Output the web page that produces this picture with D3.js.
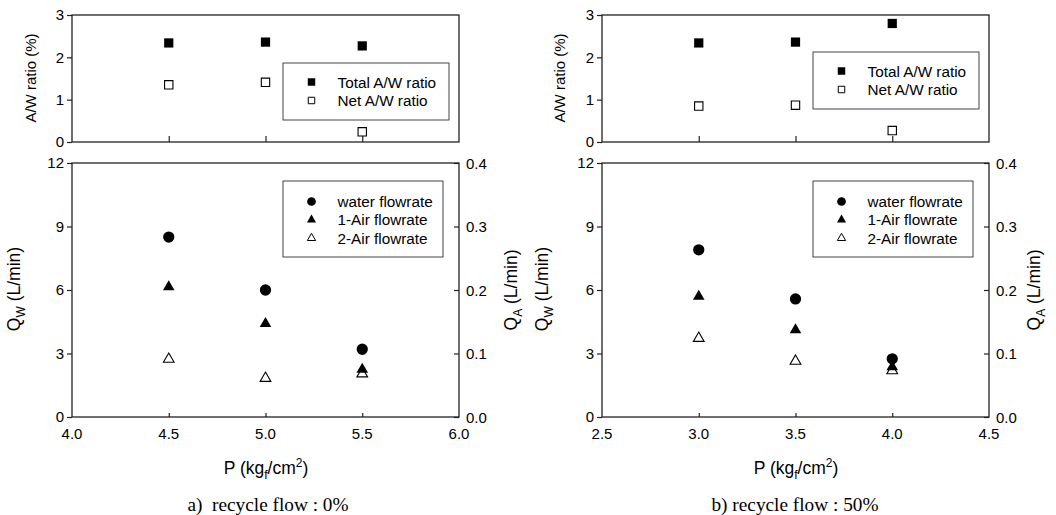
<!DOCTYPE html>
<html>
<head>
<meta charset="utf-8">
<script src="https://cdn.jsdelivr.net/npm/d3@7"></script>
<style>
  body { margin: 0; background: #fff; }
  svg { display: block; font-family: "Liberation Sans", Arial, sans-serif; }
</style>
</head>
<body>
<div class="container"></div>
<script>
// recycle flow 0%
const pressureA = [4.5, 5.0, 5.5];
const totalAWA = [2.34, 2.36, 2.27];
const netAWA = [1.35, 1.41, 0.24];
const waterA = [8.5, 6.0, 3.2];
const air1A = [0.205, 0.147, 0.075];
const air2A = [0.091, 0.061, 0.068];
const xTicksA = [4.0, 4.5, 5.0, 5.5, 6.0];

// recycle flow 50%
const pressureB = [3.0, 3.5, 4.0];
const totalAWB = [2.34, 2.36, 2.80];
const netAWB = [0.85, 0.87, 0.27];
const waterB = [7.9, 5.58, 2.75];
const air1B = [0.19, 0.137, 0.079];
const air2B = [0.124, 0.088, 0.073];
const xTicksB = [2.5, 3.0, 3.5, 4.0, 4.5];

const ratioTicks = [0, 1, 2, 3];
const qwTicks = [0, 3, 6, 9, 12];
const qaTicks = [0, 0.1, 0.2, 0.3, 0.4];
const ratioLegend = ['Total A/W ratio', 'Net A/W ratio'];
const flowLegend = ['water flowrate', '1-Air flowrate', '2-Air flowrate'];
const captions = ['a)  recycle flow : 0%', 'b) recycle flow : 50%'];

const width = 1056, height = 515;
const ink = '#222';

const svg = d3.select('.container').append('svg')
  .attr('width', width).attr('height', height);
svg.append('rect').attr('width', width).attr('height', height).attr('fill', '#fff');

const sym = (type, size) => d3.symbol().type(type).size(size)();

const drawPanel = (cfg) => {
  const x = d3.scaleLinear().domain(d3.extent(cfg.xTicks)).range([cfg.left, cfg.left + 387]);
  const yR = d3.scaleLinear().domain([0, 3]).range([142, 15]);
  const yW = d3.scaleLinear().domain([0, 12]).range([417, 163]);
  const yA = d3.scaleLinear().domain([0, 0.4]).range([417, 163]);

  // ----- top panel: A/W ratio
  const top = svg.append('g');
  top.append('g').attr('transform', `translate(${cfg.left},0)`)
    .call(d3.axisLeft(yR).tickValues(ratioTicks).tickSize(5).tickFormat(d3.format('d')))
    .call(g => g.select('.domain').remove());
  top.append('g').attr('transform', 'translate(0,142)')
    .call(d3.axisTop(x).tickValues(cfg.pressure).tickSize(6).tickFormat(''))
    .call(g => g.select('.domain').remove());
  top.append('rect')
    .attr('x', x.range()[0]).attr('y', 15)
    .attr('width', x.range()[1] - x.range()[0]).attr('height', 127)
    .attr('fill', 'none').attr('stroke', ink).attr('stroke-width', 1.3);

  top.selectAll('.tot').data(cfg.pressure).enter().append('path')
    .attr('d', sym(d3.symbolSquare, 85))
    .attr('transform', (d, i) => `translate(${x(d)},${yR(cfg.total[i])})`)
    .attr('fill', '#000');
  top.selectAll('.net').data(cfg.pressure).enter().append('path')
    .attr('d', sym(d3.symbolSquare, 70))
    .attr('transform', (d, i) => `translate(${x(d)},${yR(cfg.net[i])})`)
    .attr('fill', '#fff').attr('stroke', '#000').attr('stroke-width', 1.1);

  top.append('text')
    .attr('transform', `translate(${cfg.left - cfg.awX},78) rotate(-90)`)
    .attr('text-anchor', 'middle').attr('font-size', 15).text('A/W ratio (%)');

  // legend (top)
  const lt = top.append('g').attr('transform', `translate(${cfg.left + 211},${cfg.topLegendY})`);
  lt.append('rect').attr('width', 166).attr('height', 57)
    .attr('fill', '#fff').attr('stroke', '#444').attr('stroke-width', 1);
  ratioLegend.forEach((name, i) => {
    const yy = 19 + i * 18.5;
    lt.append('path')
      .attr('d', sym(d3.symbolSquare, i === 0 ? 56 : 42))
      .attr('transform', `translate(28.5,${yy})`)
      .attr('fill', i === 0 ? '#000' : '#fff').attr('stroke', '#000').attr('stroke-width', i === 0 ? 0 : 1);
    lt.append('text').attr('x', 54.5).attr('y', yy + 5.5).attr('font-size', 15.3).text(name);
  });

  // ----- bottom panel: flow rates
  const bot = svg.append('g');
  bot.append('g').attr('transform', `translate(${cfg.left},0)`)
    .call(d3.axisLeft(yW).tickValues(qwTicks).tickSize(5).tickFormat(d3.format('d')))
    .call(g => g.select('.domain').remove());
  bot.append('g').attr('transform', `translate(${cfg.left + 387},0)`)
    .call(d3.axisLeft(yA).tickValues(qaTicks).tickSize(5).tickFormat(''))
    .call(g => g.select('.domain').remove());
  bot.append('g').selectAll('text').data(qaTicks).enter().append('text')
    .attr('x', cfg.left + 394).attr('y', d => yA(d) + 5.5)
    .attr('font-size', 15).text(d => d3.format('.1f')(d));
  bot.append('g').attr('transform', 'translate(0,417)')
    .call(d3.axisTop(x).tickValues(cfg.pressure).tickSize(4).tickFormat(''))
    .call(g => g.select('.domain').remove());
  bot.append('g').selectAll('text').data(cfg.xTicks).enter().append('text')
    .attr('x', d => x(d)).attr('y', 438.5)
    .attr('text-anchor', 'middle').attr('font-size', 15).text(d => d3.format('.1f')(d));
  bot.append('rect')
    .attr('x', x.range()[0]).attr('y', 163)
    .attr('width', 387).attr('height', 254)
    .attr('fill', 'none').attr('stroke', ink).attr('stroke-width', 1.3);

  bot.selectAll('.water').data(cfg.pressure).enter().append('path')
    .attr('d', sym(d3.symbolCircle, 100))
    .attr('transform', (d, i) => `translate(${x(d)},${yW(cfg.water[i])})`)
    .attr('fill', '#000');
  bot.selectAll('.air2').data(cfg.pressure).enter().append('path')
    .attr('d', sym(d3.symbolTriangle, 50))
    .attr('transform', (d, i) => `translate(${x(d)},${yA(cfg.air2[i])})`)
    .attr('fill', '#fff').attr('stroke', '#000').attr('stroke-width', 1.1);
  bot.selectAll('.air1').data(cfg.pressure).enter().append('path')
    .attr('d', sym(d3.symbolTriangle, 58))
    .attr('transform', (d, i) => `translate(${x(d)},${yA(cfg.air1[i])})`)
    .attr('fill', '#000');

  const qw = bot.append('text')
    .attr('transform', `translate(${cfg.left - cfg.qwX},289) rotate(-90)`)
    .attr('text-anchor', 'middle').attr('font-size', 17.5);
  qw.append('tspan').text('Q');
  qw.append('tspan').attr('font-size', 12).attr('dy', 5).text('W');
  qw.append('tspan').attr('dy', -5).text(' (L/min)');

  const qa = bot.append('text')
    .attr('transform', `translate(${cfg.left + cfg.qaX},290) rotate(-90)`)
    .attr('text-anchor', 'middle').attr('font-size', 17.5);
  qa.append('tspan').text('Q');
  qa.append('tspan').attr('font-size', 12).attr('dy', 5).text('A');
  qa.append('tspan').attr('dy', -5).text(' (L/min)');

  // legend (bottom)
  const lb = bot.append('g').attr('transform', `translate(${cfg.left + 211},181)`);
  lb.append('rect').attr('width', 160).attr('height', 76)
    .attr('fill', '#fff').attr('stroke', '#444').attr('stroke-width', 1);
  const lsym = [
    { d: sym(d3.symbolCircle, 60), fill: '#000', sw: 0 },
    { d: sym(d3.symbolTriangle, 36), fill: '#000', sw: 0 },
    { d: sym(d3.symbolTriangle, 30), fill: '#fff', sw: 1 }
  ];
  flowLegend.forEach((name, i) => {
    const yy = 20.5 + i * 18.3;
    lb.append('path').attr('d', lsym[i].d)
      .attr('transform', `translate(28.5,${yy})`)
      .attr('fill', lsym[i].fill).attr('stroke', '#000').attr('stroke-width', lsym[i].sw);
    lb.append('text').attr('x', 54.5).attr('y', yy + 5.5).attr('font-size', 15.3).text(name);
  });

  // x label and caption
  const xl = bot.append('text')
    .attr('x', cfg.left + 194).attr('y', 474)
    .attr('text-anchor', 'middle').attr('font-size', 17.5);
  xl.append('tspan').text('P (kg');
  xl.append('tspan').attr('font-size', 12).attr('dy', 5).text('f');
  xl.append('tspan').attr('dy', -5).text('/cm');
  xl.append('tspan').attr('font-size', 12).attr('dy', -7).text('2');
  xl.append('tspan').attr('dy', 7).text(')');

  bot.append('text')
    .attr('x', cfg.left + cfg.capX).attr('y', 511)
    .attr('text-anchor', 'middle')
    .attr('font-family', '"Liberation Serif", "Times New Roman", serif')
    .attr('font-size', 19.3)
    .style('white-space', 'pre')
    .text(cfg.caption);
};

drawPanel({ left: 72, xTicks: xTicksA, pressure: pressureA, total: totalAWA, net: netAWA,
  water: waterA, air1: air1A, air2: air2A, topLegendY: 63, caption: captions[0],
  awX: 36, qwX: 52, qaX: 445, capX: 196 });
drawPanel({ left: 602, xTicks: xTicksB, pressure: pressureB, total: totalAWB, net: netAWB,
  water: waterB, air1: air1B, air2: air2B, topLegendY: 52, caption: captions[1],
  awX: 37, qwX: 54, qaX: 438, capX: 193 });

svg.selectAll('.tick text').attr('font-size', 15).attr('font-family', '"Liberation Sans", Arial, sans-serif').attr('fill', '#000');
svg.selectAll('.tick line').attr('stroke', ink).attr('stroke-width', 1.2);
</script>
</body>
</html>
